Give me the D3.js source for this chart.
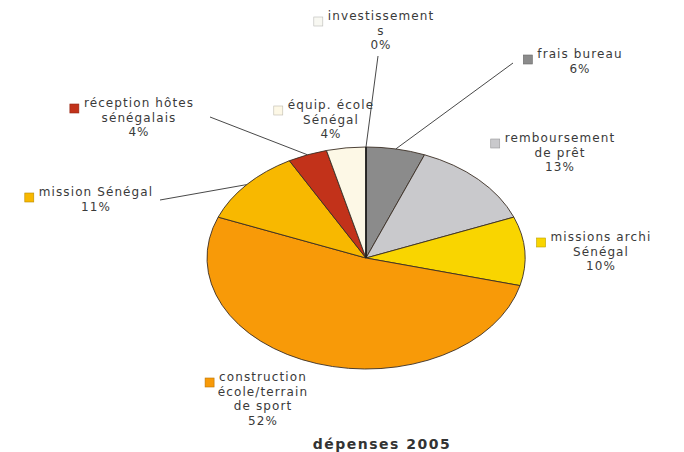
<!DOCTYPE html>
<html>
<head>
<meta charset="utf-8">
<script src="https://cdn.jsdelivr.net/npm/d3@7"></script>
<style>
  html, body { margin: 0; padding: 0; background: #fff; }
  svg { display: block; font-family: "DejaVu Sans", Verdana, sans-serif; }
</style>
</head>
<body>
<div id="chart"></div>
<script>
// dépenses 2005 — ellipse-shaped pie with legend-style labels

// ── Data ──────────────────────────────────────────────────────────────────
const categories = [
  'investissements', 'frais bureau', 'remboursement de prêt', 'missions archi Sénégal',
  'construction école/terrain de sport', 'mission Sénégal', 'réception hôtes sénégalais',
  'équip. école Sénégal'
];
const labelLines = [
  ['investissement', 's'], ['frais bureau'], ['remboursement', 'de prêt'], ['missions archi', 'Sénégal'],
  ['construction', 'école/terrain', 'de sport'], ['mission Sénégal'], ['réception hôtes', 'sénégalais'],
  ['équip. école', 'Sénégal']
];
const percents = [0, 6, 13, 10, 52, 11, 4, 4];
const colors = ['#f8f8f2', '#8b8b8b', '#c9c9cc', '#f9d500', '#f89a08', '#f8b800', '#c2321a', '#fdf8e6'];
const title = 'dépenses 2005';

// ── Layout (label placement, px) ─────────────────────────────────────────
const W = 684, H = 452;
const cx = 366, cy = 258, rx = 159, ry = 111;
const labelPos = [
  { x: 381, y: 16,  lead: [378, 56] },
  { x: 580, y: 54,  lead: [513, 63] },
  { x: 560, y: 138 },
  { x: 601, y: 237 },
  { x: 263, y: 377 },
  { x: 96,  y: 192, lead: [160, 200] },
  { x: 139, y: 103, lead: [210, 117] },
  { x: 331, y: 105 }
];
const lineH = 14.6;

const svg = d3.select('#chart').append('svg').attr('width', W).attr('height', H);

const pie = d3.pie().sort(null).value(d => d)(percents);
const arc = d3.arc().innerRadius(0).outerRadius(rx);

// Pie squeezed vertically into an ellipse
const gPie = svg.append('g').attr('transform', `translate(${cx},${cy}) scale(1,${ry / rx})`);
gPie.selectAll('path').data(pie).join('path')
  .attr('d', arc)
  .attr('fill', (d, i) => colors[i])
  .attr('stroke', (d, i) => percents[i] === 0 ? '#222' : '#3a2e24')
  .attr('stroke-width', (d, i) => percents[i] === 0 ? 1.8 : 0.9)
  .attr('vector-effect', 'non-scaling-stroke');

// Zero slice: draw its radius explicitly so it shows
pie.forEach((d, i) => {
  if (percents[i] !== 0) return;
  gPie.append('line')
    .attr('x1', 0).attr('y1', 0)
    .attr('x2', rx * Math.sin(d.startAngle)).attr('y2', -rx * Math.cos(d.startAngle))
    .attr('stroke', '#222').attr('stroke-width', 1.8)
    .attr('vector-effect', 'non-scaling-stroke');
});

// Leader lines from slice mid-angle on the rim
const gLead = svg.append('g');
pie.forEach((d, i) => {
  const p = labelPos[i];
  if (!p.lead) return;
  const a = (d.startAngle + d.endAngle) / 2;
  gLead.append('line')
    .attr('x1', cx + rx * Math.sin(a)).attr('y1', cy - ry * Math.cos(a))
    .attr('x2', p.lead[0]).attr('y2', p.lead[1])
    .attr('stroke', '#333').attr('stroke-width', 0.9);
});

// Labels
const gLab = svg.append('g').attr('font-size', 12).attr('fill', '#3a3a3a')
  .attr('letter-spacing', 1.1);
pie.forEach((d, i) => {
  const p = labelPos[i];
  const lines = labelLines[i].concat([percents[i] + '%']);
  const t = gLab.append('text').attr('text-anchor', 'middle');
  lines.forEach((ln, k) => {
    t.append('tspan').attr('x', p.x).attr('y', p.y + 4 + k * lineH).text(ln);
  });
  const w = t.select('tspan').node().getComputedTextLength();
  gLab.append('rect')
    .attr('x', p.x - w / 2 - 14).attr('y', p.y + 1)
    .attr('width', 9).attr('height', 9)
    .attr('fill', colors[i])
    .attr('stroke', d3.color(colors[i]).darker(0.8))
    .attr('stroke-width', 0.6);
});

// Title
svg.append('text')
  .attr('x', 382).attr('y', 449)
  .attr('text-anchor', 'middle')
  .attr('font-size', 14).attr('font-weight', 'bold')
  .attr('letter-spacing', 1.5)
  .attr('fill', '#333')
  .text(title);
</script>
</body>
</html>
